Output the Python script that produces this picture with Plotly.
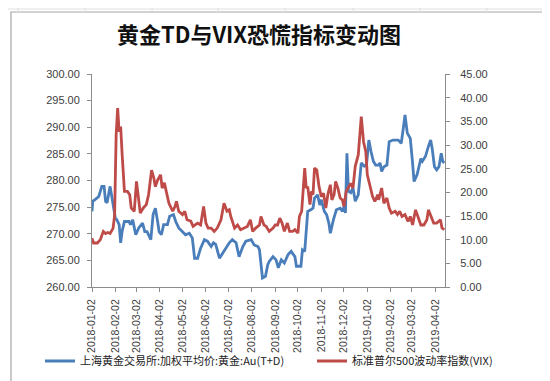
import plotly.graph_objects as go

# ---------------- data ----------------
gold_dates = [
    "2018-01-02", "2018-01-03", "2018-01-06", "2018-01-11", "2018-01-15", "2018-01-18", "2018-01-20",
    "2018-01-22", "2018-01-26", "2018-01-27", "2018-01-31", "2018-02-02", "2018-02-04", "2018-02-07",
    "2018-02-09", "2018-02-11", "2018-02-14", "2018-02-20", "2018-02-22", "2018-02-25", "2018-03-01",
    "2018-03-05", "2018-03-10", "2018-03-13", "2018-03-16", "2018-03-21", "2018-03-24", "2018-03-27",
    "2018-03-30", "2018-04-01", "2018-04-04", "2018-04-07", "2018-04-12", "2018-04-15", "2018-04-20",
    "2018-04-23", "2018-04-27", "2018-05-02", "2018-05-06", "2018-05-11", "2018-05-15", "2018-05-18",
    "2018-05-22", "2018-05-26", "2018-05-31", "2018-06-04", "2018-06-09", "2018-06-12", "2018-06-15",
    "2018-06-20", "2018-06-24", "2018-06-28", "2018-07-03", "2018-07-07", "2018-07-12", "2018-07-16",
    "2018-07-21", "2018-07-25", "2018-08-01", "2018-08-05", "2018-08-10", "2018-08-12", "2018-08-14",
    "2018-08-16", "2018-08-20", "2018-08-23", "2018-08-25", "2018-08-30", "2018-09-03", "2018-09-06",
    "2018-09-10", "2018-09-14", "2018-09-19", "2018-09-23", "2018-09-28", "2018-09-30", "2018-10-06",
    "2018-10-08", "2018-10-11", "2018-10-13", "2018-10-15", "2018-10-19", "2018-10-22", "2018-10-24",
    "2018-10-28", "2018-10-31", "2018-11-02", "2018-11-06", "2018-11-09", "2018-11-12", "2018-11-14",
    "2018-11-18", "2018-11-22", "2018-11-27", "2018-11-30", "2018-12-02", "2018-12-04", "2018-12-06",
    "2018-12-08", "2018-12-11", "2018-12-14", "2018-12-17", "2018-12-21", "2018-12-25", "2018-12-29",
    "2019-01-01", "2019-01-04", "2019-01-07", "2019-01-10", "2019-01-13", "2019-01-17", "2019-01-19",
    "2019-01-21", "2019-01-24", "2019-01-28", "2019-01-31", "2019-02-05", "2019-02-12", "2019-02-16",
    "2019-02-19", "2019-02-21", "2019-02-24", "2019-02-28", "2019-03-03", "2019-03-05", "2019-03-09",
    "2019-03-12", "2019-03-14", "2019-03-16", "2019-03-20", "2019-03-24", "2019-03-27", "2019-03-29",
    "2019-04-01", "2019-04-04", "2019-04-07", "2019-04-10", "2019-04-12", "2019-04-14",
]
gold_values = [
    274.2, 276.1, 276.4, 277.0, 278.9, 278.9, 276.1,
    275.8, 278.9, 278.0, 274.8, 272.9, 272.6, 271.7,
    268.3, 270.5, 272.3, 272.3, 271.7, 272.6, 269.8,
    271.1, 272.0, 270.4, 270.4, 268.9, 273.6, 274.8,
    272.3, 270.4, 269.8, 271.7, 271.7, 273.3, 273.6,
    272.3, 271.1, 270.4, 269.8, 270.1, 269.2, 265.4,
    265.4, 267.3, 268.9, 268.6, 267.6, 268.3, 268.0,
    265.4, 266.3, 267.0, 268.3, 268.9, 268.3, 265.7,
    267.6, 268.6, 268.9, 267.9, 267.6, 267.0, 264.8,
    261.7, 262.0, 264.2, 264.8, 265.7, 265.1, 263.6,
    265.1, 264.5, 266.1, 266.7, 265.7, 263.9, 263.9,
    267.0, 266.7, 270.4, 274.2, 274.5, 274.8, 276.7,
    277.3, 275.4, 276.4, 274.2, 273.6, 272.0, 270.1,
    272.6, 274.5, 274.8, 274.2, 275.1, 273.9, 285.1,
    278.0, 277.7, 278.6, 276.1, 277.3, 283.3, 282.7,
    283.0, 287.6, 285.4, 283.6, 282.9, 282.9, 283.3,
    281.7, 282.6, 282.9, 287.3, 287.6, 287.6, 287.0,
    290.1, 292.3, 288.9, 287.9, 283.3, 279.8, 281.1,
    282.9, 284.1, 283.6, 284.5, 286.4, 287.6, 286.0,
    282.6, 282.0, 282.6, 285.1, 283.6, 283.3,
]

vix_dates = [
    "2018-01-02", "2018-01-04", "2018-01-09", "2018-01-13", "2018-01-17", "2018-01-20", "2018-01-23",
    "2018-01-26", "2018-01-30", "2018-02-01", "2018-02-03", "2018-02-05", "2018-02-07", "2018-02-09",
    "2018-02-11", "2018-02-12", "2018-02-14", "2018-02-18", "2018-02-21", "2018-02-23", "2018-02-27",
    "2018-03-02", "2018-03-05", "2018-03-07", "2018-03-11", "2018-03-15", "2018-03-18", "2018-03-22",
    "2018-03-25", "2018-03-27", "2018-03-30", "2018-04-03", "2018-04-05", "2018-04-08", "2018-04-11",
    "2018-04-14", "2018-04-19", "2018-04-22", "2018-04-24", "2018-04-27", "2018-05-02", "2018-05-05",
    "2018-05-08", "2018-05-13", "2018-05-16", "2018-05-22", "2018-05-26", "2018-05-30", "2018-06-02",
    "2018-06-05", "2018-06-09", "2018-06-13", "2018-06-17", "2018-06-22", "2018-06-26", "2018-06-30",
    "2018-07-03", "2018-07-05", "2018-07-10", "2018-07-14", "2018-07-18", "2018-07-23", "2018-07-27",
    "2018-07-31", "2018-08-03", "2018-08-07", "2018-08-12", "2018-08-14", "2018-08-18", "2018-08-21",
    "2018-08-25", "2018-08-30", "2018-09-02", "2018-09-05", "2018-09-08", "2018-09-11", "2018-09-14",
    "2018-09-18", "2018-09-21", "2018-09-25", "2018-09-28", "2018-10-02", "2018-10-04", "2018-10-07",
    "2018-10-11", "2018-10-13", "2018-10-15", "2018-10-18", "2018-10-20", "2018-10-22", "2018-10-24",
    "2018-10-27", "2018-10-30", "2018-11-02", "2018-11-05", "2018-11-08", "2018-11-11", "2018-11-14",
    "2018-11-16", "2018-11-19", "2018-11-21", "2018-11-24", "2018-11-27", "2018-11-30", "2018-12-02",
    "2018-12-05", "2018-12-08", "2018-12-11", "2018-12-14", "2018-12-17", "2018-12-21", "2018-12-23",
    "2018-12-25", "2018-12-28", "2018-12-31", "2019-01-02", "2019-01-05", "2019-01-09", "2019-01-12",
    "2019-01-16", "2019-01-17", "2019-01-21", "2019-01-24", "2019-01-28", "2019-01-31", "2019-02-03",
    "2019-02-08", "2019-02-11", "2019-02-14", "2019-02-17", "2019-02-21", "2019-02-25", "2019-02-28",
    "2019-03-03", "2019-03-07", "2019-03-11", "2019-03-14", "2019-03-18", "2019-03-22", "2019-03-24",
    "2019-03-28", "2019-03-31", "2019-04-04", "2019-04-09", "2019-04-11", "2019-04-14",
]
vix_values = [
    10.3, 9.3, 9.3, 10.0, 11.75, 11.3, 11.5,
    11.3, 12.45, 15.25, 32.1, 37.8, 32.8, 33.9,
    27.9, 25.1, 20.2, 20.2, 19.5, 16.7, 16.0,
    22.3, 18.1, 15.6, 16.7, 17.4, 19.5, 24.7,
    23.0, 21.2, 22.6, 23.7, 20.9, 22.0, 19.8,
    17.7, 16.0, 17.0, 18.1, 16.0, 15.3, 16.0,
    14.2, 13.9, 12.8, 13.5, 13.1, 17.0, 13.5,
    12.45, 12.45, 11.75, 12.45, 14.2, 17.7, 16.0,
    16.3, 14.9, 12.45, 13.1, 12.1, 12.45, 12.8,
    14.2, 11.75, 12.45, 13.1, 14.9, 13.1, 12.8,
    11.75, 12.45, 13.1, 13.1, 14.55, 13.5, 11.75,
    13.5, 11.75, 11.75, 12.1, 11.4, 14.9, 16.0,
    25.1, 20.9, 21.2, 17.4, 20.2, 19.5, 25.1,
    24.7, 21.2, 19.1, 19.8, 16.7, 19.8, 21.6,
    18.4, 19.5, 22.3, 20.9, 18.8, 18.4, 17.0,
    20.2, 21.2, 21.9, 20.9, 25.5, 27.9, 32.8,
    36.0, 30.7, 28.6, 23.7, 21.6, 19.1, 18.1,
    19.5, 18.4, 20.9, 17.7, 18.8, 16.7, 15.6,
    16.0, 15.3, 16.0, 14.9, 15.3, 13.85, 14.9,
    13.1, 16.3, 14.6, 13.1, 13.1, 14.2, 16.3,
    14.6, 13.5, 13.5, 14.2, 12.45, 12.1,
]

x_ticks = [
    "2018-01-02", "2018-02-02", "2018-03-02", "2018-04-02", "2018-05-02", "2018-06-02",
    "2018-07-02", "2018-08-02", "2018-09-02", "2018-10-02", "2018-11-02", "2018-12-02",
    "2019-01-02", "2019-02-02", "2019-03-02", "2019-04-02",
]

gold_name = "上海黄金交易所:加权平均价:黄金:Au(T+D)"
vix_name = "标准普尔500波动率指数(VIX)"
title_text = "黄金TD与VIX恐慌指标变动图"

# ---------------- figure ----------------
W, H = 550, 381
L, R, T, B = 84, 113, 66, 102
pw, ph = W - L - R, H - T - B


def px_x(p):
    return (p - L) / pw


def px_y(p):
    return (H - B - p) / ph


fig = go.Figure()
fig.add_trace(go.Scatter(
    x=gold_dates, y=gold_values, name=gold_name, mode="lines",
    line=dict(color="#4A7EBB", width=2.8), yaxis="y", legend="legend",
))
fig.add_trace(go.Scatter(
    x=vix_dates, y=vix_values, name=vix_name, mode="lines",
    line=dict(color="#BE4B48", width=2.8), yaxis="y2", legend="legend2",
))

tick_font = dict(family="Liberation Sans, Arial, sans-serif", size=11, color="#404040")
axis_col = "#8C8C8C"
legend_font = dict(family="Noto Sans CJK SC, sans-serif", size=11, color="#222222")

fig.update_layout(
    width=W, height=H,
    margin=dict(l=L, r=R, t=T, b=B, pad=0),
    paper_bgcolor="white", plot_bgcolor="white",
    title=dict(
        text="<b>" + title_text + "</b>",
        x=px_x(251), xref="paper", xanchor="center",
        y=1 - 27 / H, yref="container", yanchor="middle",
        font=dict(family="Noto Sans CJK SC, sans-serif", size=22, color="#111111"),
    ),
    xaxis=dict(
        type="date",
        range=["2018-01-02", "2019-04-15"],
        tickvals=x_ticks, ticktext=x_ticks,
        tickangle=-90,
        ticks="outside", ticklen=4, tickcolor=axis_col,
        showline=True, linecolor=axis_col, linewidth=1,
        showgrid=False, zeroline=False,
        tickfont=dict(family="Liberation Sans, Arial, sans-serif", size=10.5, color="#404040"),
        ticklabelstandoff=3,
    ),
    yaxis=dict(
        range=[260, 300], dtick=5, tick0=260, tickformat=".2f",
        ticks="outside", ticklen=4, tickcolor=axis_col,
        showline=True, linecolor=axis_col, linewidth=1,
        showgrid=False, zeroline=False,
        tickfont=tick_font, ticklabelstandoff=5,
    ),
    yaxis2=dict(
        range=[0, 45], dtick=5, tick0=0, tickformat=".2f",
        overlaying="y", side="right",
        ticks="outside", ticklen=4, tickcolor=axis_col,
        showline=True, linecolor=axis_col, linewidth=1,
        showgrid=False, zeroline=False,
        tickfont=tick_font, ticklabelstandoff=8,
    ),
    legend=dict(
        x=px_x(32), y=px_y(353), xanchor="left", yanchor="middle",
        orientation="h", bgcolor="rgba(0,0,0,0)", font=legend_font,
    ),
    legend2=dict(
        x=px_x(304), y=px_y(353), xanchor="left", yanchor="middle",
        orientation="h", bgcolor="rgba(0,0,0,0)", font=legend_font,
    ),
    showlegend=True,
)

# chart-area frame and the spreadsheet cell lines around it
shapes = [
    dict(type="rect", xref="paper", yref="paper",
         x0=px_x(3), x1=px_x(544), y0=px_y(377), y1=px_y(4),
         line=dict(color="#A6A6A6", width=1.2), fillcolor="rgba(0,0,0,0)", layer="below"),
    dict(type="line", xref="paper", yref="paper",
         x0=px_x(0), x1=px_x(550), y0=px_y(1), y1=px_y(1),
         line=dict(color="#E0E0E0", width=1)),
]
for cx in [10, 77, 144, 210, 277, 345, 412, 479]:
    shapes.append(dict(type="line", xref="paper", yref="paper",
                       x0=px_x(cx), x1=px_x(cx), y0=px_y(4), y1=px_y(0),
                       line=dict(color="#E0E0E0", width=1)))
    shapes.append(dict(type="line", xref="paper", yref="paper",
                       x0=px_x(cx), x1=px_x(cx), y0=px_y(381), y1=px_y(378),
                       line=dict(color="#E0E0E0", width=1)))
fig.update_layout(shapes=shapes)

fig.write_html("out.html")
